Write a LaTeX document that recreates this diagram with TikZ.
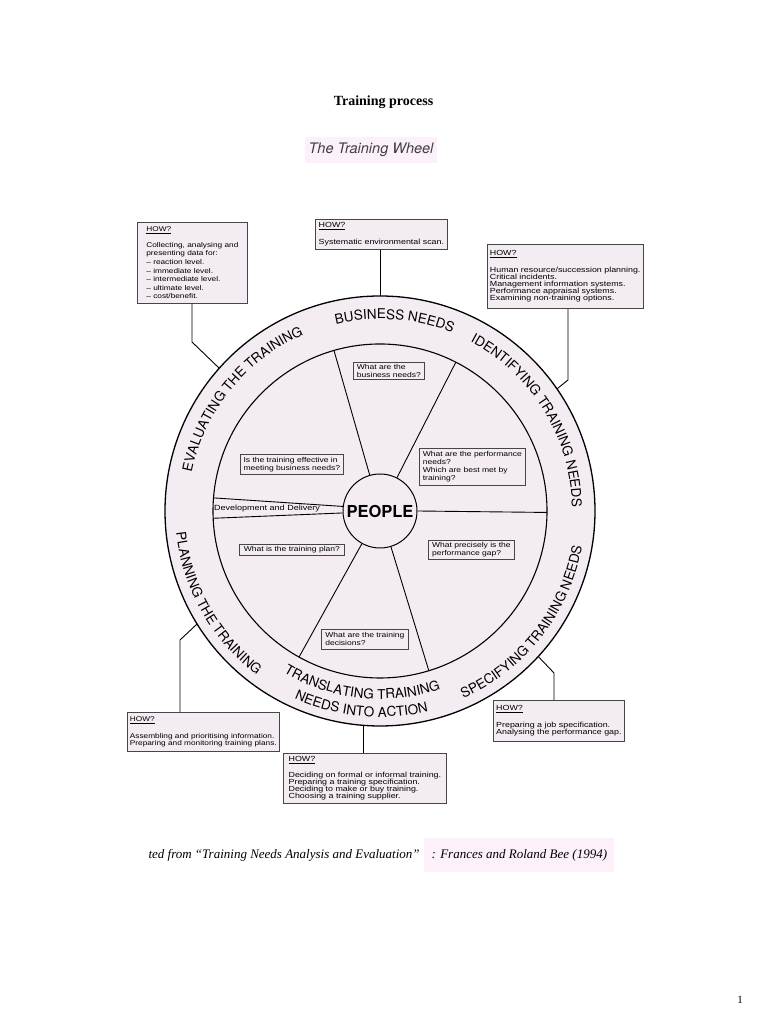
\documentclass[tikz,border=0pt]{standalone}
\usepackage{fontspec}
\setmainfont{Liberation Serif}
\newfontfamily\ringfont{TeX Gyre Heros}
\newfontfamily\boxfont[FakeStretch=1.2]{Liberation Sans}
\usepackage{tikz}
\usetikzlibrary{calc,positioning,decorations.text}

\definecolor{wheelbg}{RGB}{243,236,243}
\definecolor{titlebg}{RGB}{252,241,250}
\definecolor{edgegray}{RGB}{70,70,70}

\newcommand{\ringsize}{\ringfont\fontsize{13.5}{14}\selectfont}

\tikzset{
    howbox/.style={draw=edgegray, fill=wheelbg, anchor=north west, align=left,
        inner xsep=2.5pt, inner ysep=2.5pt, line width=0.8pt,
        font=\boxfont\fontsize{7.4}{7}\selectfont},
    qbox/.style={draw=edgegray, fill=wheelbg, anchor=north west, align=left,
        inner xsep=2pt, inner ysep=1.5pt, line width=0.7pt,
        font=\boxfont\fontsize{7.1}{8.2}\selectfont},
    spoke/.style={line width=0.9pt},
    link/.style={line width=0.9pt},
    ringlabel/.style={decorate, decoration={text along path, text align=center, text={#1}}},
}

\begin{document}
\begin{tikzpicture}[x=1pt,y=1pt]
        % Page
        \fill[white] (0,0) rectangle (768,1024);
        \useasboundingbox (0,0) rectangle (768,1024);

        % Headings
        \node[font=\bfseries\fontsize{14}{16}\selectfont] (title) at (383.5,922) {Training process};
        \node[fill=titlebg, minimum width=132, minimum height=26, text=black!75,
              font=\ringfont\itshape\fontsize{14.5}{16}\selectfont] (wheeltitle) at (371,874) {The Training Wheel};

        % Wheel
        \coordinate (c) at (380,513);
        \draw[line width=1.3pt, fill=wheelbg] (c) circle[radius=215];
        \draw[line width=1.1pt] (c) circle[radius=167];
        \node[draw, circle, line width=1pt, fill=wheelbg, minimum size=74, inner sep=0pt,
              font=\ringfont\bfseries\fontsize{16.5}{18}\selectfont] (people) at (c) {PEOPLE};

        % Spokes
        \draw[spoke] (people.106) -- ($(c)+(106:167)$);
        \draw[spoke] (people.63) -- ($(c)+(63:167)$);
        \draw[spoke] (people.0) -- ($(c)+(-0.5:167)$);
        \draw[spoke] (people.-73) -- ($(c)+(-73:167)$);
        \draw[spoke] (people.-119) -- ($(c)+(-119:167)$);
        % Development and Delivery wedge
        \draw[spoke] (people.173.5) -- ($(c)+(175.5:167)$);
        \draw[spoke] (people.183) -- ($(c)+(182.5:167)$);
        \node[font=\boxfont\fontsize{7.5}{8}\selectfont, inner sep=0pt] (devdel) at (267,515) {Development and Delivery};

        % Ring labels, read clockwise
        \path[ringlabel={|\ringsize|BUSINESS NEEDS}] ($(c)+(130.6:192)$) arc[start angle=130.6, end angle=40.6, radius=192];
        \path[ringlabel={|\ringsize|IDENTIFYING TRAINING NEEDS}] ($(c)+(76.5:192)$) arc[start angle=76.5, end angle=-13.5, radius=192];
        \path[ringlabel={|\ringsize|EVALUATING THE TRAINING}] ($(c)+(186:192)$) arc[start angle=186, end angle=96, radius=192];
        % Ring labels, read counter-clockwise
        \path[ringlabel={|\ringsize|SPECIFYING TRAINING NEEDS}] ($(c)+(-83:205)$) arc[start angle=-83, end angle=7, radius=205];
        \path[ringlabel={|\ringsize|PLANNING THE TRAINING}] ($(c)+(164.6:205)$) arc[start angle=164.6, end angle=254.6, radius=205];
        \path[ringlabel={|\ringsize|TRANSLATING TRAINING}] ($(c)+(-141:188)$) arc[start angle=-141, end angle=-51, radius=188];
        \path[ringlabel={|\ringsize|NEEDS INTO ACTION}] ($(c)+(-140.5:206)$) arc[start angle=-140.5, end angle=-50.5, radius=206];

        % Questions inside the wheel
        \node[qbox, minimum width=71, minimum height=17] (qBiz) at (353,662) {What are the\\business needs?};
        \node[qbox, minimum width=106, minimum height=37] (qPerf) at (419,576) {What are the performance\\needs?\\Which are best met by\\training?};
        \node[qbox, minimum width=86, minimum height=19] (qGap) at (428,484) {What precisely is the\\performance gap?};
        \node[qbox, minimum width=87, minimum height=20] (qDec) at (321,395) {What are the training\\decisions?};
        \node[qbox, minimum width=105, minimum height=11] (qPlan) at (239,480) {What is the training plan?};
        \node[qbox, minimum width=103, minimum height=20] (qEff) at (240,570) {Is the training effective in\\meeting business needs?};

        % Connector points on the rim
        \coordinate (k1) at ($(c)+(138.4:215)$);
        \coordinate (k1b) at (192,682);
        \coordinate (k2) at ($(c)+(90:215)$);
        \coordinate (k3) at ($(c)+(34.6:215)$);
        \coordinate (k3b) at (568,644);
        \coordinate (k4) at ($(c)+(211.7:215)$);
        \coordinate (k4b) at (180,384);
        \coordinate (k5) at ($(c)+(-94.5:215)$);
        \coordinate (k6) at ($(c)+(-42.6:215)$);
        \coordinate (k6b) at (554,351);

        % HOW? boxes
        \node[howbox, minimum width=110, minimum height=81, font=\boxfont\fontsize{6.9}{8.6}\selectfont] (howEval) at (137,802)
            {\underline{HOW?}\\[7pt]Collecting, analysing and\\presenting data for:\\– reaction level.\\– immediate level.\\– intermediate level.\\– ultimate level.\\– cost/benefit.};
        \node[howbox, minimum width=132, minimum height=30] (howBiz) at (315,805)
            {\underline{HOW?}\\[8.5pt]Systematic environmental scan.};
        \node[howbox, minimum width=151, minimum height=64] (howIdent) at (487,780)
            {\underline{HOW?}\\[8.5pt]Human resource/succession planning.\\Critical incidents.\\Management information systems.\\Performance appraisal systems.\\Examining non-training options.};
        \node[howbox, minimum width=150, minimum height=39, font=\boxfont\fontsize{6.9}{7}\selectfont] (howPlan) at (127,312)
            {\underline{HOW?}\\[8.5pt]Assembling and prioritising information.\\Preparing and monitoring training plans.};
        \node[howbox, minimum width=163, minimum height=50] (howAct) at (283,271)
            {\underline{HOW?}\\[8pt]Deciding on formal or informal training.\\Preparing a training specification.\\Deciding to make or buy training.\\Choosing a training supplier.};
        \node[howbox, minimum width=131, minimum height=41] (howSpec) at (493,324)
            {\underline{HOW?}\\[8.5pt]Preparing a job specification.\\Analysing the performance gap.};

        % Connectors
        \draw[link] (howEval.south -| k1b) -- (k1b) -- (k1);
        \draw[link] (howBiz.south -| k2) -- (k2);
        \draw[link] (howIdent.south -| k3b) -- (k3b) -- (k3);
        \draw[link] (howPlan.north -| k4b) -- (k4b) -- (k4);
        \draw[link] (howAct.north -| k5) -- (k5);
        \draw[link] (howSpec.north -| k6b) -- (k6b) -- (k6);

        % Source
        \node[anchor=west, font=\itshape\fontsize{13}{15}\selectfont] (citeL) at (145,169)
            {ted from “Training Needs Analysis and Evaluation”};
        \node[right=1pt of citeL, fill=titlebg, minimum width=190, minimum height=34,
              font=\itshape\fontsize{13}{15}\selectfont] (citeR) {: Frances and Roland Bee (1994)};

        % Page number
        \node[font=\fontsize{11}{13}\selectfont] (pagenum) at (740,24) {1};
\end{tikzpicture}
\end{document}
